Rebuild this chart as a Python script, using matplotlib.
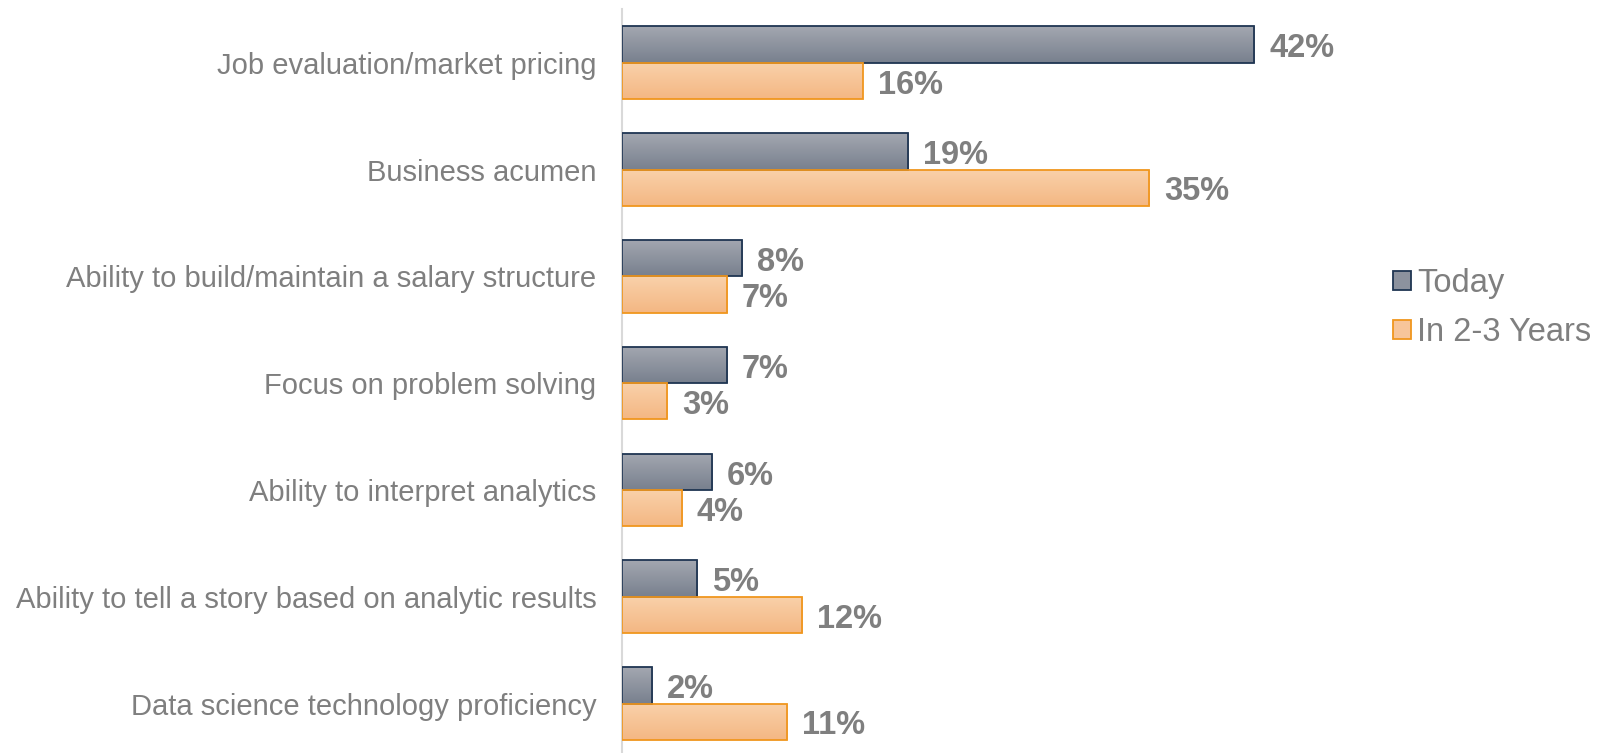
import numpy as np
import matplotlib.pyplot as plt
from matplotlib.patches import Patch
from matplotlib.colors import LinearSegmentedColormap

plt.rcParams['font.family'] = ['Liberation Sans', 'DejaVu Sans']

skills = [
    "Job evaluation/market pricing",
    "Business acumen",
    "Ability to build/maintain a salary structure",
    "Focus on problem solving",
    "Ability to interpret analytics",
    "Ability to tell a story based on analytic results",
    "Data science technology proficiency",
]
today = [42, 19, 8, 7, 6, 5, 2]
future = [16, 35, 7, 3, 4, 12, 11]

grey_txt = "#7f7f7f"
today_cmap = LinearSegmentedColormap.from_list("today", ["#a3a7b0", "#78808e"])
future_cmap = LinearSegmentedColormap.from_list("future", ["#f9d1aa", "#f4b783"])

fig = plt.figure(figsize=(15.98, 7.53), dpi=100)
ax = fig.add_axes([0.389, 0.0, 0.443, 743.7 / 753])

y = np.arange(len(skills))
h = 0.34
b1 = ax.barh(y - h / 2, today, height=h, color="none", edgecolor="#1f3552", linewidth=1.3, zorder=3)
b2 = ax.barh(y + h / 2, future, height=h, color="none", edgecolor="#f0961e", linewidth=1.3, zorder=3)

# vertical gradient fill inside each bar
grad = np.linspace(0, 1, 64).reshape(-1, 1)
for bars, cmap in ((b1, today_cmap), (b2, future_cmap)):
    for p in bars:
        x0, y0 = p.get_x(), p.get_y()
        w, hh = p.get_width(), p.get_height()
        im = ax.imshow(grad, cmap=cmap, aspect="auto", extent=(x0, x0 + w, y0 + hh, y0),
                       origin="upper", zorder=2)
        im.set_clip_path(p)

for bars, vals in ((b1, today), (b2, future)):
    for p, v in zip(bars, vals):
        ax.text(p.get_width() + 1.0, p.get_y() + p.get_height() / 2 + 0.04, f"{v}%",
                va="center", ha="left", fontsize=23.5, fontweight="bold", color=grey_txt)

ax.set_xlim(0, 47)
ax.set_ylim(len(skills) - 0.537, -0.5)
ax.set_yticks(y)
ax.set_yticklabels(skills, fontsize=21, color=grey_txt)
ax.tick_params(axis="y", length=0, pad=18)
ax.set_xticks([])
for s in ["top", "right", "bottom"]:
    ax.spines[s].set_visible(False)
ax.spines["left"].set_color("#d9d9d9")
ax.spines["left"].set_linewidth(1.5)

handles = [
    Patch(facecolor="#8c929e", edgecolor="#1f3552", linewidth=1.3, label="Today"),
    Patch(facecolor="#f7c59a", edgecolor="#f0961e", linewidth=1.3, label="In 2-3 Years"),
]
leg = fig.legend(handles=handles, loc="center left", bbox_to_anchor=(0.8635, 0.591),
                 frameon=False, fontsize=23.5, handlelength=0.55, handleheight=0.55,
                 handletextpad=0.2, labelspacing=0.55, borderaxespad=0)
for t in leg.get_texts():
    t.set_color(grey_txt)

fig.savefig("out.png", dpi=100)
